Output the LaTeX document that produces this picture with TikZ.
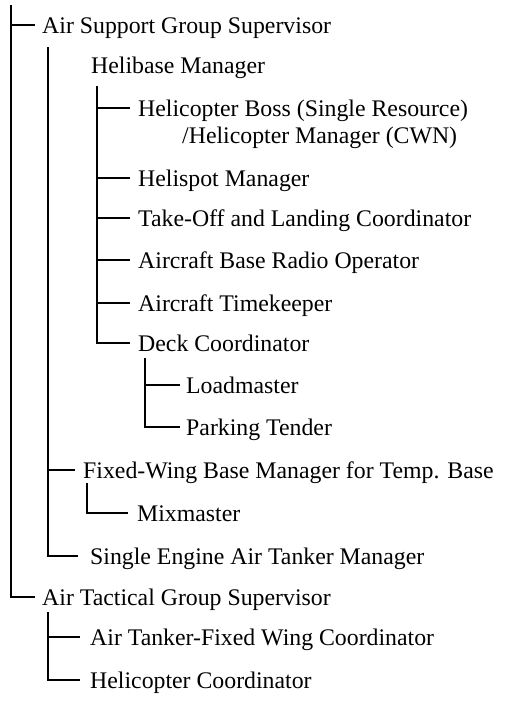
\documentclass[tikz,border=0pt]{standalone}
\usepackage{fontspec}
\setmainfont{Liberation Serif}
\begin{document}
\begin{tikzpicture}[x=1pt,y=-1pt,
  lbl/.style={anchor=west,inner ysep=0pt,inner xsep=7pt,text height=20pt,text depth=4pt,
    font=\fontsize{23.8}{28}\selectfont},
  link/.style={draw=black,line width=2pt}]
\useasboundingbox (0,0) rectangle (509,702);
% labels
\node[lbl] (asg) at (35,25) {Air Support Group Supervisor};
\node[lbl,inner xsep=0pt] (hbm) at (91,65) {Helibase Manager};
\node[lbl,inner xsep=8pt] (hb) at (130,108) {Helicopter Boss (Single Resource)};
\node[lbl,inner xsep=0pt] (hb2) at (182,135) {/Helicopter Manager (CWN)};
\node[lbl,inner xsep=8pt] (hsm) at (130,178) {Helispot Manager};
\node[lbl,inner xsep=8pt] (tlc) at (130,218) {Take-Off and Landing Coordinator};
\node[lbl,inner xsep=8pt] (abr) at (130,260) {Aircraft Base Radio Operator};
\node[lbl,inner xsep=8pt] (atk) at (130,303) {Aircraft Timekeeper};
\node[lbl,inner xsep=8pt] (dc) at (130,343) {Deck Coordinator};
\node[lbl,inner xsep=6pt] (lm) at (180,385) {Loadmaster};
\node[lbl,inner xsep=6pt] (pt) at (180,427) {Parking Tender};
\node[lbl,inner xsep=8pt] (fw) at (75,470) {Fixed-Wing Base Manager for Temp. Base};
\node[lbl,inner xsep=9pt] (mx) at (128,513) {Mixmaster};
\node[lbl,inner xsep=12pt] (se) at (78,556) {Single Engine Air Tanker Manager};
\node[lbl] (atg) at (35,597) {Air Tactical Group Supervisor};
\node[lbl,inner xsep=10pt] (atf) at (80,637) {Air Tanker-Fixed Wing Coordinator};
\node[lbl,inner xsep=10pt] (hc) at (80,680) {Helicopter Coordinator};
% free ends of the vertical lines
\coordinate (t0) at (11,5);
\coordinate (t1) at (48,47);
\coordinate (t2) at (97,86);
\coordinate (t3) at (145,358);
\coordinate (t4) at (87,483);
\coordinate (t5) at (48,612);
% connectors
\draw[link] (t0) |- (asg.west);
\draw[link] (t0) |- (atg.west);
\draw[link] (t1) |- (fw.west);
\draw[link] (t1) |- (se.west);
\draw[link] (t2) |- (hb.west);
\draw[link] (t2) |- (hsm.west);
\draw[link] (t2) |- (tlc.west);
\draw[link] (t2) |- (abr.west);
\draw[link] (t2) |- (atk.west);
\draw[link] (t2) |- (dc.west);
\draw[link] (t3) |- (lm.west);
\draw[link] (t3) |- (pt.west);
\draw[link] (t4) |- (mx.west);
\draw[link] (t5) |- (atf.west);
\draw[link] (t5) |- (hc.west);
\end{tikzpicture}
\end{document}
